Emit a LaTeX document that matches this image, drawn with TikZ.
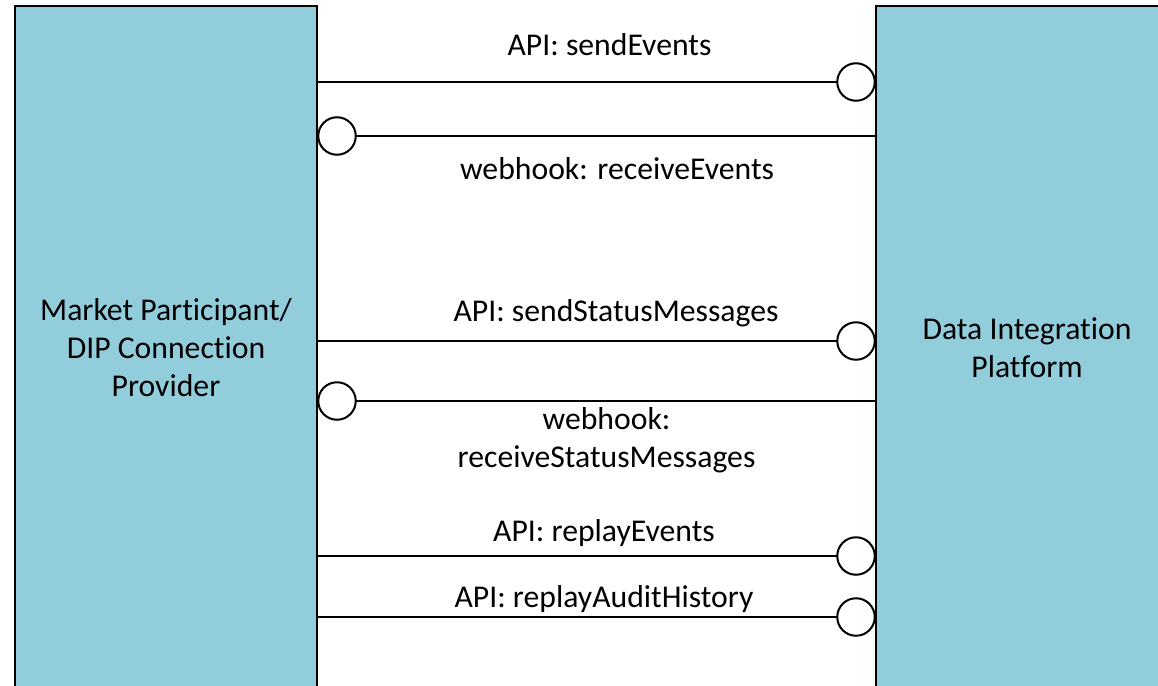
\documentclass[tikz,border=0pt]{standalone}
\usepackage{fontspec}
\setmainfont[Ligatures=NoCommon]{Carlito}
\definecolor{boxfill}{HTML}{92CDDC}
\begin{document}
\begin{tikzpicture}[x=1pt,y=-1pt,
  every node/.style={font=\fontsize{31.7}{38}\selectfont},
  sysbox/.style={draw=black,line width=2pt,fill=boxfill,minimum width=302pt,minimum height=684pt,
    align=center,inner sep=0pt,outer sep=0pt},
  socket/.style={circle,draw=black,line width=2pt,fill=white,minimum size=37.5pt,inner sep=0pt,outer sep=0pt},
  wire/.style={line width=2pt,draw=black},
  lbl/.style={anchor=base,inner sep=0pt,align=center}]
\useasboundingbox (0,0) rectangle (1158,685);
\begin{scope}
\clip (0,0) rectangle (1158,685);
% the two systems
\node[sysbox] (mp) at (166,348) {Market Participant/\\DIP Connection\\Provider};
\node[sysbox] (dip) at (1027,348) {Data Integration\\Platform};
% interface sockets
\node[socket] (s1) at (856,82) {};
\node[socket] (s2) at (337,136) {};
\node[socket] (s3) at (856,341) {};
\node[socket] (s4) at (337,401) {};
\node[socket] (s5) at (856,556) {};
\node[socket] (s6) at (856,617) {};
% connectors
\draw[wire] (mp.east |- s1) -- (s1.west);
\draw[wire] (dip.west |- s2) -- (s2.east);
\draw[wire] (mp.east |- s3) -- (s3.west);
\draw[wire] (dip.west |- s4) -- (s4.east);
\draw[wire] (mp.east |- s5) -- (s5.west);
\draw[wire] (mp.east |- s6) -- (s6.west);
\end{scope}
% labels
\node[lbl] (l1) at (609.5,56) {API: sendEvents};
\node[lbl] (l2) at (617,179) {webhook: receiveEvents};
\node[lbl] (l3) at (616,321) {API: sendStatusMessages};
\node[lbl] (l4) at (606.5,467) {webhook:\\receiveStatusMessages};
\node[lbl] (l5) at (604,541) {API: replayEvents};
\node[lbl] (l6) at (604,607) {API: replayAuditHistory};
\end{tikzpicture}
\end{document}
